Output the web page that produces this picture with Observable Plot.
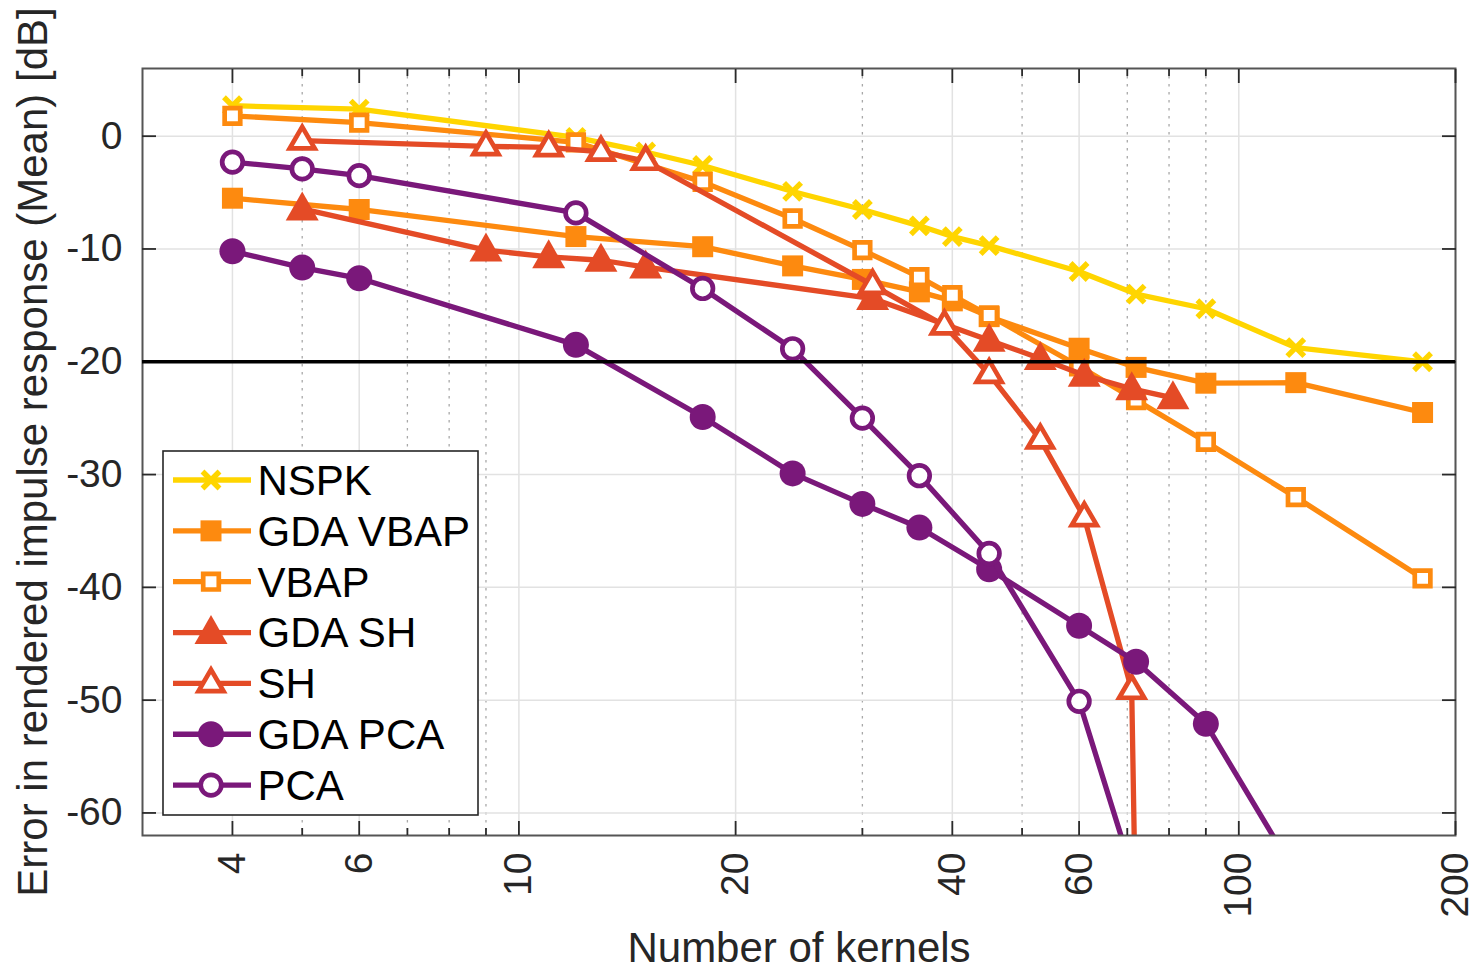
<!DOCTYPE html>
<html>
<head>
<meta charset="utf-8">
<script src="https://cdn.jsdelivr.net/npm/d3@7"></script>
<script src="https://cdn.jsdelivr.net/npm/@observablehq/plot@0.6"></script>
<style>
  body { margin: 0; background: #fff; }
  #wrap { position: relative; width: 1477px; height: 970px; }
</style>
</head>
<body>
<div id="wrap"></div>
<script>
const FONT = '"Liberation Sans", Arial, Helvetica, sans-serif';

// ---------- data ----------
const nspkX    = [4, 6, 12, 15, 18, 24, 30, 36, 40, 45, 60, 72, 90, 120, 180];
const nspkY    = [2.7, 2.4, -0.1, -1.4, -2.6, -4.9, -6.5, -7.95, -8.9, -9.7, -12.0, -14.0, -15.3, -18.75, -20.0];

const vbapX    = [4, 6, 12, 18, 24, 30, 36, 40, 45, 60, 72, 90, 120, 180];
const gdaVbapY = [-5.5, -6.5, -8.9, -9.8, -11.5, -12.7, -13.8, -14.6, -16.0, -18.8, -20.5, -21.9, -21.85, -24.5];
const vbapY    = [1.8, 1.2, -0.55, -4.05, -7.3, -10.1, -12.5, -14.1, -15.9, -20.4, -23.4, -27.1, -32.0, -39.2];

const gdaShX   = [5, 9, 11, 13, 15, 31, 45, 53, 61, 71, 81];
const gdaShY   = [-6.45, -10.1, -10.7, -11.0, -11.6, -14.4, -18.1, -19.7, -21.2, -22.4, -23.2];
const shX      = [5, 9, 11, 13, 15, 31, 39, 45, 53, 61, 71, 72];
const shY      = [-0.4, -0.9, -1.0, -1.4, -2.2, -13.2, -16.8, -21.1, -26.9, -33.8, -49.1, -72];

const gdaPcaX  = [4, 5, 6, 12, 18, 24, 30, 36, 45, 60, 72, 90, 120];
const gdaPcaY  = [-10.2, -11.65, -12.6, -18.5, -24.9, -29.9, -32.6, -34.7, -38.4, -43.4, -46.6, -52.1, -65.4];
const pcaX     = [4, 5, 6, 12, 18, 24, 30, 36, 45, 60, 72];
const pcaY     = [-2.3, -2.9, -3.5, -6.8, -13.5, -18.85, -25.0, -30.1, -37.0, -50.1, -66.3];

const xTickLabels = [4, 6, 10, 20, 40, 60, 100, 200];
const xMinorTicks = [5, 7, 8, 9, 30, 50, 70, 80, 90];
const yTicks      = [-60, -50, -40, -30, -20, -10, 0];
const threshold   = [-20];

const seriesNames = ["NSPK", "GDA VBAP", "VBAP", "GDA SH", "SH", "GDA PCA", "PCA"];

// ---------- styles ----------
const COL = { yellow: "#FFD500", orange: "#FD8A0F", red: "#E44B26", purple: "#7A187A" };
const TXT = "#262626";
const LINE_W = 5.3;

function tri(ctx, w, h) {
  ctx.moveTo(0, -(h / 2 + 3));
  ctx.lineTo(w / 2, h / 2 - 3);
  ctx.lineTo(-w / 2, h / 2 - 3);
  ctx.closePath();
}
const SYM = {
  cross:        { filled: false, cross: true,  draw(c) { const a = 8.5; c.moveTo(-a, -a); c.lineTo(a, a); c.moveTo(-a, a); c.lineTo(a, -a); } },
  squareFilled: { filled: true,  draw(c) { c.rect(-10.5, -10.5, 21, 21); } },
  squareOpen:   { filled: false, draw(c) { c.rect(-7.8, -7.8, 15.6, 15.6); } },
  triFilled:    { filled: true,  draw(c) { tri(c, 33, 29); } },
  triOpen:      { filled: false, draw(c) { tri(c, 25, 21.5); } },
  circleFilled: { filled: true,  draw(c) { c.moveTo(13, 0); c.arc(0, 0, 13, 0, 2 * Math.PI); } },
  circleOpen:   { filled: false, draw(c) { c.moveTo(10.3, 0); c.arc(0, 0, 10.3, 0, 2 * Math.PI); } }
};

const series = [
  { name: seriesNames[0], xs: nspkX,   ys: nspkY,    color: COL.yellow, marker: "cross" },
  { name: seriesNames[1], xs: vbapX,   ys: gdaVbapY, color: COL.orange, marker: "squareFilled" },
  { name: seriesNames[2], xs: vbapX,   ys: vbapY,    color: COL.orange, marker: "squareOpen" },
  { name: seriesNames[3], xs: gdaShX,  ys: gdaShY,   color: COL.red,    marker: "triFilled" },
  { name: seriesNames[4], xs: shX,     ys: shY,      color: COL.red,    marker: "triOpen" },
  { name: seriesNames[5], xs: gdaPcaX, ys: gdaPcaY,  color: COL.purple, marker: "circleFilled" },
  { name: seriesNames[6], xs: pcaX,    ys: pcaY,     color: COL.purple, marker: "circleOpen" }
];

function dotStyle(s) {
  const m = SYM[s.marker];
  return {
    symbol: { draw: (ctx) => m.draw(ctx) },
    fill: m.filled ? s.color : (m.cross ? "none" : "white"),
    stroke: m.filled ? "none" : s.color,
    strokeWidth: m.cross ? 5.4 : 4.7
  };
}

const seriesMarks = series.flatMap(s => {
  const data = s.xs.map((x, i) => ({ x, y: s.ys[i] }));
  const st = dotStyle(s);
  return [
    Plot.line(data, { x: "x", y: "y", stroke: s.color, strokeWidth: LINE_W, strokeLinejoin: "round", clip: true }),
    Plot.dot(data, { x: "x", y: "y", r: 6, symbol: st.symbol, fill: st.fill, stroke: st.stroke, strokeWidth: st.strokeWidth, clip: true })
  ];
});

const noText = () => "";
const tickStyle = { stroke: "#2a2a2a", strokeWidth: 1.8, label: null, tickFormat: noText };

const chart = Plot.plot({
  width: 1477,
  height: 970,
  marginLeft: 142,
  marginRight: 22,
  marginTop: 68,
  marginBottom: 135,
  x: { type: "log", domain: [3, 200], label: null },
  y: { domain: [-62, 6], label: null },
  style: { fontFamily: FONT, background: "white", overflow: "visible" },
  marks: [
    Plot.gridX(xMinorTicks, { stroke: "#a8a8a8", strokeOpacity: 1, strokeWidth: 1.3, strokeDasharray: "2.5,5.5" }),
    Plot.gridX(xTickLabels, { stroke: "#e2e2e2", strokeOpacity: 1, strokeWidth: 1.5 }),
    Plot.gridY(yTicks, { stroke: "#e2e2e2", strokeOpacity: 1, strokeWidth: 1.5 }),
    ...seriesMarks,
    Plot.frame({ stroke: "#555", strokeWidth: 2 }),
    Plot.axisX(xTickLabels, { anchor: "bottom", tickSize: -14, ...tickStyle }),
    Plot.axisX(xMinorTicks, { anchor: "bottom", tickSize: -7, ...tickStyle }),
    Plot.axisX(xTickLabels, { anchor: "top", tickSize: -14, ...tickStyle }),
    Plot.axisX(xMinorTicks, { anchor: "top", tickSize: -7, ...tickStyle }),
    Plot.axisY(yTicks, { anchor: "left", tickSize: -14, ...tickStyle }),
    Plot.axisY(yTicks, { anchor: "right", tickSize: -14, ...tickStyle }),
    Plot.axisX(xTickLabels, {
      anchor: "bottom", tickSize: 0, tickPadding: 17, tickRotate: -90,
      textAnchor: "end", lineAnchor: "middle",
      fontSize: 39, fill: TXT, label: null, tickFormat: d => String(d)
    }),
    Plot.axisY(yTicks, {
      anchor: "left", tickSize: 0, tickPadding: 20,
      fontSize: 39, fill: TXT, label: null, tickFormat: d => String(d)
    }),
    Plot.ruleY(threshold, { stroke: "#000", strokeWidth: 3.5 }),
    Plot.text(["Number of kernels"], {
      text: d => d, frameAnchor: "bottom", dy: 126, lineAnchor: "bottom",
      fontSize: 42, fill: TXT
    }),
    Plot.text(["Error in rendered impulse response (Mean) [dB]"], {
      text: d => d, frameAnchor: "left", rotate: -90, dx: -109,
      lineAnchor: "middle", textAnchor: "middle", fontSize: 42, fill: TXT
    })
  ]
});

const wrap = document.getElementById("wrap");
wrap.appendChild(chart);

// ---------- legend overlay ----------
const legW = 320, legH = 370;
const leg = d3.select(wrap).append("svg")
  .attr("width", legW).attr("height", legH)
  .style("position", "absolute").style("left", "161px").style("top", "449px")
  .style("font-family", FONT);

leg.append("rect")
  .attr("x", 2).attr("y", 2).attr("width", 315).attr("height", 364)
  .attr("fill", "white").attr("stroke", TXT).attr("stroke-width", 1.6);

series.forEach((s, i) => {
  const cy = 31 + i * 50.85;
  const g = leg.append("g");
  g.append("line")
    .attr("x1", 12).attr("x2", 90).attr("y1", cy).attr("y2", cy)
    .attr("stroke", s.color).attr("stroke-width", LINE_W);
  const st = dotStyle(s);
  const p = d3.path();
  st.symbol.draw(p);
  g.append("path")
    .attr("d", p.toString())
    .attr("transform", `translate(50,${cy})`)
    .attr("fill", st.fill).attr("stroke", st.stroke).attr("stroke-width", st.strokeWidth);
  g.append("text")
    .attr("x", 96.5).attr("y", cy + 14.8)
    .attr("font-size", 42).attr("fill", "#000")
    .text(s.name);
});
</script>
</body>
</html>
